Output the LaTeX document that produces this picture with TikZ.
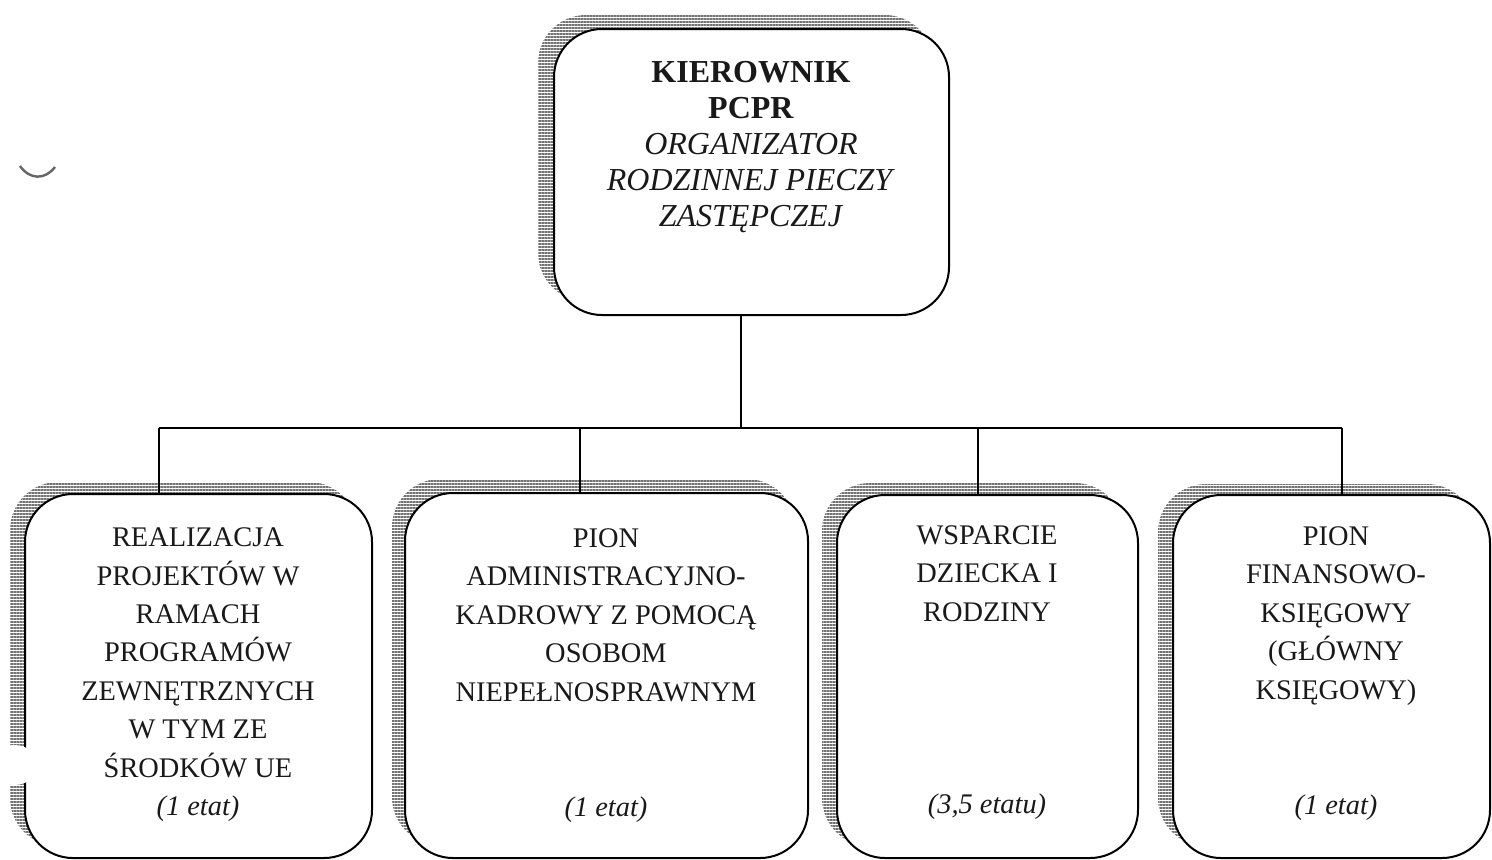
\documentclass[tikz,border=0pt]{standalone}
\usepackage{fontspec}
\setmainfont{Liberation Serif}
\usetikzlibrary{patterns.meta}
\begin{document}
\begin{tikzpicture}[x=0.5pt,y=-0.5pt,
  box/.style={draw=black, line width=1pt, rounded corners=24pt, fill=white, inner sep=0pt},
  shade/.style={pattern={Lines[angle=0,distance=1.5pt,line width=0.75pt]}, pattern color=black!55, rounded corners=24pt},
  conn/.style={draw=black, line width=1pt},
  big/.style={font=\fontsize{16}{18}\selectfont, align=center, inner sep=0pt, anchor=base, text=black!90},
  small/.style={font=\fontsize{14.2}{19.2}\selectfont, align=center, inner sep=0pt, anchor=base, text=black!90}]
\useasboundingbox[fill=white] (0,0) rectangle (1492,859);

% shadows
\fill[shade] (538,15) rectangle (933,301);
\fill[shade] (10,482) rectangle (357,846);
\fill[shade] (392,479) rectangle (795,845);
\fill[shade] (822,483) rectangle (1123,846);
\fill[shade] (1158,484) rectangle (1475,846);

% boxes
\node[box, minimum width=197.5pt, minimum height=143pt] (top) at (751.5,172) {};
\node[box, minimum width=173.5pt, minimum height=182pt] (b1) at (198.5,676) {};
\node[box, minimum width=201.5pt, minimum height=182.5pt] (b2) at (606.5,675.5) {};
\node[box, minimum width=150.5pt, minimum height=181.5pt] (b3) at (987.5,676.5) {};
\node[box, minimum width=158.5pt, minimum height=181.5pt] (b4) at (1331.5,676.5) {};

% texts (anchored at the baseline of the last line)
\node[big] (t0) at (751,226) {\textbf{KIEROWNIK}\\\textbf{PCPR}\\\textit{ORGANIZATOR}\\\textit{RODZINNEJ PIECZY}\\\textit{ZASTĘPCZEJ}};
\node[small] (t1) at (198,777) {REALIZACJA\\PROJEKTÓW W\\RAMACH\\PROGRAMÓW\\ZEWNĘTRZNYCH\\W TYM ZE\\ŚRODKÓW UE};
\node[small] (e1) at (198,815) {\textit{(1 etat)}};
\node[small] (t2) at (606,701) {PION\\ADMINISTRACYJNO-\\KADROWY Z POMOCĄ\\OSOBOM\\NIEPEŁNOSPRAWNYM};
\node[small] (e2) at (606,816) {\textit{(1 etat)}};
\node[small] (t3) at (987,621) {WSPARCIE\\DZIECKA I\\RODZINY};
\node[small] (e3) at (987,813) {\textit{(3,5 etatu)}};
\node[small] (t4) at (1336,699) {PION\\FINANSOWO-\\KSIĘGOWY\\(GŁÓWNY\\KSIĘGOWY)};
\node[small] (e4) at (1336,814) {\textit{(1 etat)}};

% connectors
\coordinate (j0) at (741,428);
\coordinate (j1) at (159,428);
\coordinate (j2) at (580,428);
\coordinate (j3) at (978,428);
\coordinate (j4) at (1342,428);
\draw[conn] (j0 |- top.south) -- (j0);
\draw[conn] (j1) -- (j4);
\draw[conn] (j1) -- (j1 |- b1.north);
\draw[conn] (j2) -- (j2 |- b2.north);
\draw[conn] (j3) -- (j3 |- b3.north);
\draw[conn] (j4) -- (j4 |- b4.north);

% scan marks
\draw[black!60, line width=1.2pt] (20,166) .. controls (30,180) and (45,180) .. (55,167);
\fill[white] (14,765) ellipse (12pt and 10pt);
\end{tikzpicture}
\end{document}
